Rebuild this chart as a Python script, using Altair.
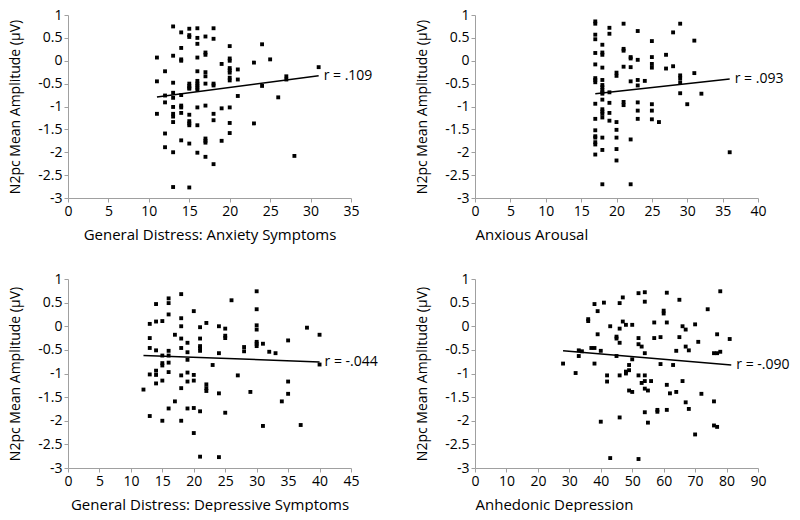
import altair as alt
import pandas as pd

FONT = "Open Sans"

# ---------- Panel 1: General Distress: Anxiety Symptoms ----------
x1 = [11, 11, 11,
      12, 12, 12, 12, 12,
      13, 13, 13, 13, 13, 13, 13, 13, 13, 13, 13,
      14, 14, 14, 14, 14, 14, 14, 14, 14,
      15, 15, 15, 15, 15, 15, 15, 15, 15, 15, 15, 15, 15,
      16, 16, 16, 16, 16, 16, 16, 16, 16, 16, 16, 16, 16,
      17, 17, 17, 17, 17, 17, 17, 17, 17, 17, 17,
      18, 18, 18, 18, 18, 18, 18,
      19, 19, 19,
      20, 20, 20, 20, 20, 20, 20, 20, 20, 20, 20,
      21, 21, 21,
      23, 23, 24, 24, 25, 26, 27, 27, 28, 31]
y1 = [0.07, -0.45, -1.16,
      -0.23, -0.76, -0.91, -1.59, -1.89,
      0.75, 0.11, -0.48, -0.70, -0.81, -1.01, -1.16, -1.22, -1.34, -2.00, -2.76,
      0.62, 0.28, 0.03, 0.00, -0.75, -0.98, -1.02, -1.14, -1.74,
      0.70, 0.56, 0.52, -0.50, -0.55, -0.59, -0.61, -1.18, -1.32, -1.37, -1.41, -1.81, -2.77,
      0.71, 0.50, 0.37, 0.07, -0.23, -0.44, -0.50, -0.54, -0.59, -0.63, -1.02, -1.41, -2.01,
      0.53, 0.18, 0.13, -0.25, -0.34, -0.50, -0.98, -1.70, -1.75, -1.79, -2.10,
      0.71, 0.48, -0.50, -0.54, -1.16, -1.30, -2.26,
      -0.07, -1.04, -1.75,
      0.32, 0.05, 0.00, -0.16, -0.21, -0.26, -0.37, -0.43, -1.02, -1.36, -1.58,
      -0.19, -0.41, -0.77,
      -0.04, -1.37, 0.36, -0.55, 0.03, -0.80, -0.34, -0.41, -2.08, -0.14]
fit1_x = [11, 31]
fit1_y = [-0.79, -0.33]

# ---------- Panel 2: Anxious Arousal ----------
x2 = [17] * 17 + [18] * 18 + [19] * 6 + [20] * 7 + [21] * 6 + [22] * 6 + [23] * 7 + \
     [24, 25, 25, 25, 25, 25, 25, 25, 26, 27, 27, 28, 28, 29, 29, 29, 29, 29, 30, 31, 31, 32, 36]
y2 = [0.86, 0.81, 0.57, 0.47, 0.17, -0.08, -0.38, -0.42, -0.47, -0.94, -1.27, -1.52, -1.65, -1.68, -1.78, -1.83, -2.05,
      0.35, 0.18, 0.13, -0.15, -0.42, -0.53, -0.58, -0.64, -0.69, -0.72, -0.85, -1.06, -1.11, -1.16, -1.24, -1.68, -1.95, -2.70,
      0.72, 0.59, -0.69, -0.92, -1.14, -1.31,
      -0.26, -0.33, -1.34, -1.51, -1.68, -1.93, -2.18,
      0.81, 0.26, 0.22, -0.13, -0.90, -0.97,
      0.08, 0.05, -0.14, -0.45, -1.72, -2.70,
      0.65, 0.02, -0.42, -0.54, -0.91, -1.09, -1.27,
      -0.44, 0.43, 0.08, -0.07, -0.15, -0.95, -1.09, -1.28, -1.34, 0.13, -0.17, 0.62, -0.12,
      0.81, -0.32, -0.38, -0.47, -0.71, -0.95, 0.44, -0.27, -0.72, -2.00]
fit2_x = [17, 36]
fit2_y = [-0.72, -0.40]

# ---------- Panel 3: General Distress: Depressive Symptoms ----------
x3 = [12,
      13, 13, 13, 13, 13,
      14, 14, 14, 14, 14, 14,
      15, 15, 15, 15, 15, 15,
      16, 16, 16, 16, 16, 16, 16, 16,
      17, 17,
      18, 18, 18, 18, 18, 18, 18, 18,
      19, 19, 19, 19, 19, 19,
      20, 20, 20, 20, 20,
      21, 21, 21, 21, 21, 21, 21,
      22, 22, 22, 22,
      23,
      24, 24, 24, 24,
      25, 25, 25, 25,
      26, 27, 28, 28, 29,
      30, 30, 30, 30, 30, 30, 30,
      31, 31, 32, 33, 34, 35, 35, 35, 37, 38, 40, 40]
y3 = [-1.34,
      0.05, -0.25, -0.46, -1.02, -1.90,
      0.47, 0.10, -0.51, -0.94, -1.03, -1.21,
      0.11, -0.62, -0.78, -0.83, -1.15, -2.00,
      0.59, 0.49, 0.25, -0.52, -0.62, -0.77, -0.97, -1.74,
      -0.18, -1.59,
      0.68, 0.17, 0.00, -0.26, -0.46, -1.04, -1.31, -2.00,
      -0.35, -0.55, -0.71, -0.98, -1.17, -1.74,
      0.32, -1.03, -1.15, -1.73, -2.26,
      -0.02, -0.26, -0.42, -0.46, -0.52, -1.80, -2.76,
      0.07, -1.23, -1.31, -1.37,
      -0.82,
      0.00, -0.57, -1.42, -2.77,
      -0.05, -0.20, -0.25, -1.83,
      0.55, -1.04, -0.44, -0.53, -1.39,
      0.74, 0.36, 0.02, -0.07, -0.33, -0.37, -0.42,
      -0.37, -2.11, -0.54, -0.57, -1.59, -0.30, -1.17, -1.43, -2.09, -0.03, -0.18, -0.81]
fit3_x = [12, 40]
fit3_y = [-0.62, -0.755]

# ---------- Panel 4: Anhedonic Depression ----------
x4 = [28, 32, 33, 33, 34, 36, 36, 37, 38, 38, 38, 39, 39, 40, 40, 41, 42, 42, 43, 43,
      45, 45, 45, 46, 46, 46, 46, 46, 47, 47, 48, 48, 48, 49, 49, 49, 50, 50, 50,
      52, 52, 52, 52, 52, 53, 53, 54, 54, 54, 54, 54, 54, 54, 55, 55, 56, 57, 57,
      58, 58, 59, 59, 60, 60, 61, 61, 61, 61, 62, 63, 64, 64, 65, 65, 66, 66,
      67, 67, 67, 68, 68, 70, 70, 71, 72, 74, 76, 76, 76, 77, 77, 77, 78, 78, 81]
y4 = [-0.79, -0.99, -0.51, -0.63, -0.53, 0.15, 0.11, -0.46, 0.47, -0.46, -0.79, 0.32, -0.17, -0.52, -2.02, 0.50, -1.04, -1.17, 0.00, -2.79,
      -0.22, -0.26, -0.63, 0.49, -0.05, -0.35, -1.04, -1.93, 0.61, 0.10, 0.03, -0.96, -1.00, -0.82, -0.93, -1.36, 0.03, -0.70, -1.39,
      0.70, -0.25, -0.38, -1.04, -2.81, -0.43, -1.20, 0.72, 0.52, -0.57, -1.04, -1.16, -1.32, -1.82, -1.36, -2.04, -1.16, 0.08, -0.25,
      -1.77, -1.81, -0.23, -0.80, 0.33, 0.27, 0.71, 0.08, -1.24, -1.77, -1.42, -0.82, -0.52, -1.39, 0.56, -0.23, 0.00, -1.16,
      -0.07, -0.43, -1.61, -0.51, -1.75, 0.04, -2.29, -0.33, -1.43, 0.36, -0.57, -1.59, -2.10, -0.17, -0.57, -2.13, -0.54, 0.74, -0.27]
fit4_x = [28, 81.5]
fit4_y = [-0.52, -0.82]

r_labels = ["r = .109", "r = .093", "r = -.044", "r = -.090"]
x_titles = ["General Distress: Anxiety Symptoms", "Anxious Arousal",
            "General Distress: Depressive Symptoms", "Anhedonic Depression"]
x_max = [35, 40, 45, 90]
x_step = [5, 5, 5, 10]
y_ticks = [-3, -2.5, -2, -1.5, -1, -0.5, 0, 0.5, 1]
Y_TITLE = "N2pc Mean Amplitude (µV)"

W = 283


def panel(xs, ys, fx, fy, rlab, xmax, xstep, xtitle, anchor, h):
    pts_df = pd.DataFrame({"x": xs, "y": ys})
    fit_df = pd.DataFrame({"x": fx, "y": fy})
    lab_df = pd.DataFrame({"x": [fx[1]], "y": [fy[1]], "t": [rlab]})
    xscale = alt.Scale(domain=[0, xmax], nice=False, zero=False)
    yscale = alt.Scale(domain=[-3, 1], nice=False, zero=False)
    xaxis = alt.Axis(values=list(range(0, xmax + 1, xstep)), title=xtitle,
                     titleAnchor=anchor, labelExpr="'' + datum.value", titlePadding=9,
                     titleFontSize=15, labelOverlap=False, labelFlush=False)
    yaxis = alt.Axis(values=y_ticks, title=Y_TITLE, labelExpr="'' + datum.value", titlePadding=15,
                     labelOverlap=False, labelFlush=False)
    X = alt.X("x:Q", scale=xscale, axis=xaxis)
    Y = alt.Y("y:Q", scale=yscale, axis=yaxis)
    pts = alt.Chart(pts_df).mark_square(size=15, color="black", opacity=1).encode(x=X, y=Y)
    line = alt.Chart(fit_df).mark_line(color="black", strokeWidth=1.5).encode(x=X, y=Y)
    txt = alt.Chart(lab_df).mark_text(align="left", baseline="middle", dx=5,
                                      fontSize=14, font=FONT, color="black").encode(
        x=X, y=Y, text="t:N")
    return alt.layer(pts, line, txt).properties(width=W, height=h)


p1 = panel(x1, y1, fit1_x, fit1_y, r_labels[0], x_max[0], x_step[0], x_titles[0], "middle", 183)
p2 = panel(x2, y2, fit2_x, fit2_y, r_labels[1], x_max[1], x_step[1], x_titles[1], "start", 183)
p3 = panel(x3, y3, fit3_x, fit3_y, r_labels[2], x_max[2], x_step[2], x_titles[2], "middle", 189)
p4 = panel(x4, y4, fit4_x, fit4_y, r_labels[3], x_max[3], x_step[3], x_titles[3], "start", 189)

chart = alt.concat(p1, p2, p3, p4, columns=2, bounds="flush",
                   spacing={"row": 81, "column": 124}).properties(
    padding=0
).configure_axis(
    domainColor="#a0a0a0", tickColor="#a0a0a0", tickSize=4, labelPadding=2,
    labelColor="black", titleColor="black", labelFont=FONT, titleFont=FONT,
    labelFontSize=14, titleFontSize=14, titleFontWeight="normal", grid=False,
).configure_view(stroke=None)

chart.save("out.html", embed_options={"renderer": "svg", "actions": False})
